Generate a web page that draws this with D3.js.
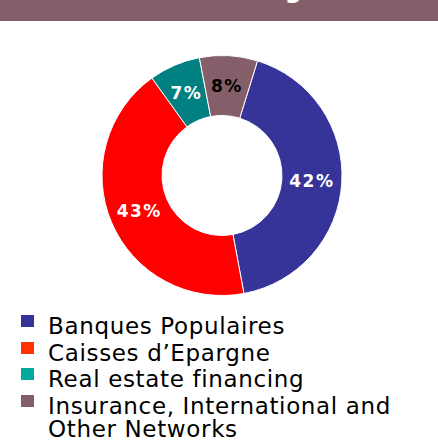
<!DOCTYPE html>
<html>
<head>
<meta charset="utf-8">
<script src="https://cdn.jsdelivr.net/npm/d3@7"></script>
<style>
  html, body { margin: 0; padding: 0; background: #fff; }
  svg { display: block; }
</style>
</head>
<body>
<svg id="chart"></svg>
<script>
// data
const categories = ['Banques Populaires', 'Caisses d\u2019Epargne', 'Real estate financing', 'Insurance, International and Other Networks'];
const shares = [42.3, 43.0, 6.9, 7.8];
const sliceColors = ['#363399', '#ff0000', '#008080', '#845f6a'];
const legendColors = ['#333399', '#ff3300', '#00a99d', '#845f6a'];
const labelColors = ['#fff', '#fff', '#fff', '#000'];
const legendLines = [['Banques Populaires'], ['Caisses d\u2019Epargne'], ['Real estate financing'], ['Insurance, International and', 'Other Networks']];
const title = 'Retail Banking';

const width = 438;
const height = 444;
const cx = 222;
const cy = 175.5;
const outerR = 120;
const innerR = 60;

const svg = d3.select('#chart')
  .attr('width', width)
  .attr('height', height);

// title bar, text mostly cut off at the top edge
svg.append('rect')
  .attr('width', width)
  .attr('height', 21)
  .attr('fill', '#845f6a');

svg.append('text')
  .attr('x', 302)
  .attr('y', -2.5)
  .attr('text-anchor', 'end')
  .attr('fill', '#fff')
  .style('font', 'bold 24px "DejaVu Sans"')
  .text(title);

const data = categories.map((c, i) => ({ name: c, value: shares[i], i }));

const pie = d3.pie()
  .sort(null)
  .value(d => d.value)
  .startAngle(17.2 * Math.PI / 180)
  .endAngle((17.2 + 360) * Math.PI / 180);

const arc = d3.arc()
  .innerRadius(innerR)
  .outerRadius(outerR);

const g = svg.append('g')
  .attr('transform', `translate(${cx},${cy})`);

const arcs = pie(data);

g.selectAll('path')
  .data(arcs)
  .join('path')
  .attr('d', arc)
  .attr('fill', d => sliceColors[d.data.i])
  .attr('stroke', '#fff')
  .attr('stroke-width', 1);

g.selectAll('text')
  .data(arcs)
  .join('text')
  .attr('transform', d => `translate(${arc.centroid(d)})`)
  .attr('text-anchor', 'middle')
  .attr('dy', '0.36em')
  .attr('fill', d => labelColors[d.data.i])
  .style('font', 'bold 17px "DejaVu Sans"')
  .style('letter-spacing', '1.5px')
  .text(d => Math.round(d.data.value) + '%');

// legend
const baselines = [334, 361, 387, 414];
const legend = svg.append('g');

legendLines.forEach((lines, i) => {
  legend.append('rect')
    .attr('x', 21)
    .attr('y', baselines[i] - 19)
    .attr('width', 13)
    .attr('height', 12)
    .attr('fill', legendColors[i]);

  const t = legend.append('text')
    .attr('x', 48)
    .attr('y', baselines[i])
    .attr('fill', '#000')
    .style('font', '23px "DejaVu Sans"')
    .style('letter-spacing', '0.65px');

  lines.forEach((line, k) => {
    t.append('tspan')
      .attr('x', 48)
      .attr('dy', k === 0 ? 0 : 23)
      .text(line);
  });
});
</script>
</body>
</html>
